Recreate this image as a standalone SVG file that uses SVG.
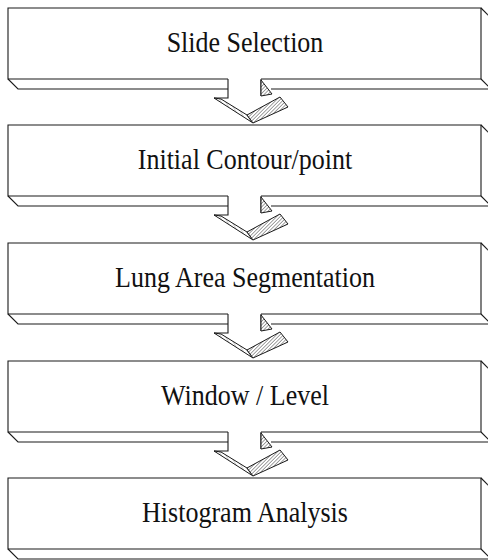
<svg xmlns="http://www.w3.org/2000/svg" width="488" height="560" viewBox="0 0 488 560">
  <style>
    .edge { fill: none; stroke: #1a1a1a; stroke-width: 1.1; stroke-linejoin: miter; }
    .label { font-family: "Liberation Serif", "Times New Roman", serif; font-size: 26px; fill: #111; text-anchor: middle; }
    .hatch { fill: url(#hatch); stroke: #1a1a1a; stroke-width: 1; }
    .light { fill: url(#hatchLight); stroke: #1a1a1a; stroke-width: 1; }
  </style>
  <defs>
    <pattern id="hatch" width="2.5" height="2.5" patternUnits="userSpaceOnUse" patternTransform="rotate(45)">
      <rect width="2.5" height="2.5" fill="#fff"/>
      <line x1="0" y1="0" x2="0" y2="2.5" stroke="#444" stroke-width="1"/>
    </pattern>
    <pattern id="hatchLight" width="4" height="4" patternUnits="userSpaceOnUse" patternTransform="rotate(-30)">
      <rect width="4" height="4" fill="#fff"/>
      <line x1="0" y1="0" x2="0" y2="4" stroke="#888" stroke-width="0.8"/>
    </pattern>
    <!-- extruded box with an opening in the bottom edge for the outgoing arrow -->
    <g id="boxOpen">
      <path class="edge" d="M228,71 H8 V0 H481 V71 H261"/>
      <path class="edge" d="M481,0 L491,10"/>
      <path class="edge" d="M8,71 L18,81 H228"/>
      <path class="edge" d="M481,71 L491,81 H271"/>
    </g>
    <!-- 3D arrow leaving the bottom of a box (origin at box top-left line) -->
    <g id="arrow">
      <path class="edge" d="M228,71 V90 H214"/>
      <path class="light" d="M214,90 L253,115 L247,107 L221,91 Z"/>
      <path class="hatch" d="M247,107 L280,89 L288,99 L253,115 Z"/>
      <path class="edge" d="M261,71 V88"/>
      <path class="hatch" d="M261,72 L272,86 L261,88 Z"/>
    </g>
  </defs>

  <g id="connectors">
    <use href="#arrow" y="8"/>
    <use href="#arrow" y="125"/>
    <use href="#arrow" y="243"/>
    <use href="#arrow" y="361"/>
  </g>

  <g id="slide-selection">
    <use href="#boxOpen" y="8"/>
    <text class="label" transform="translate(245,52) scale(1,1.1)">Slide Selection</text>
  </g>

  <g id="initial-contour">
    <use href="#boxOpen" y="125"/>
    <text class="label" transform="translate(245,169) scale(1,1.1)">Initial Contour/point</text>
  </g>

  <g id="lung-area-segmentation">
    <use href="#boxOpen" y="243"/>
    <text class="label" transform="translate(245,287) scale(1,1.1)">Lung Area Segmentation</text>
  </g>

  <g id="window-level">
    <use href="#boxOpen" y="361"/>
    <text class="label" transform="translate(245,405) scale(1,1.1)">Window / Level</text>
  </g>

  <g id="histogram-analysis">
    <path class="edge" d="M8,478 H481 V549 H8 Z"/>
    <path class="edge" d="M481,478 L491,488"/>
    <path class="edge" d="M8,549 L18,559 H491 M481,549 L491,559"/>
    <text class="label" transform="translate(245,522) scale(1,1.1)">Histogram Analysis</text>
  </g>
</svg>
